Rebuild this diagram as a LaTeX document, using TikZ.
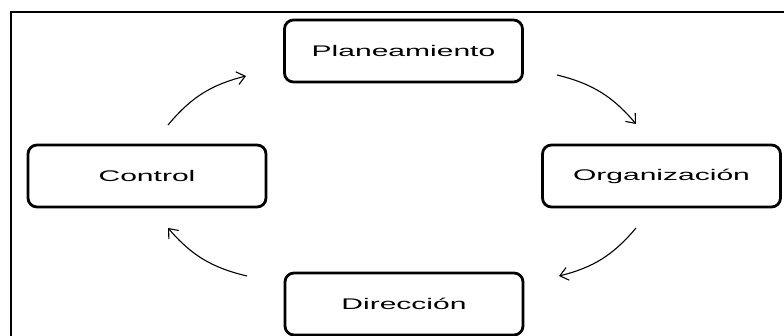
\documentclass[tikz,border=0pt]{standalone}
\usepackage{fontspec}
\setmainfont{Liberation Sans}
\usetikzlibrary{arrows.meta}
\newcommand{\ancho}[1]{\scalebox{1.95}[1]{#1}}

\begin{document}
\begin{tikzpicture}[x=1pt,y=1pt,
  etapa/.style={draw,line width=2.8pt,rounded corners=9pt,minimum width=238pt,minimum height=62pt,font=\fontsize{15.4}{18}\selectfont},
  flecha/.style={-{Straight Barb[length=8pt,width=13pt]},line width=1.1pt}]
\useasboundingbox (0,0) rectangle (784,336);
\draw[line width=1.8pt] (11,-20) -- (11,324) -- (800,324);
\node[etapa] (plan) at (403.5,285) {\ancho{Planeamiento}};
\node[etapa] (org) at (661.5,160) {\ancho{Organización}};
\node[etapa] (dir) at (404,32) {\ancho{Dirección}};
\node[etapa] (ctrl) at (147,160) {\ancho{Control}};
\coordinate (s1) at (168,211);
\coordinate (e1) at (246,260);
\coordinate (s2) at (557,261);
\coordinate (e2) at (636,212);
\coordinate (s3) at (636,108);
\coordinate (e3) at (559,60);
\coordinate (s4) at (247,60);
\coordinate (e4) at (168,108);
\draw[flecha] (s1) to[bend left=18] (e1);
\draw[flecha] (s2) to[bend left=18] (e2);
\draw[flecha] (s3) to[bend left=18] (e3);
\draw[flecha] (s4) to[bend left=18] (e4);
\end{tikzpicture}
\end{document}
